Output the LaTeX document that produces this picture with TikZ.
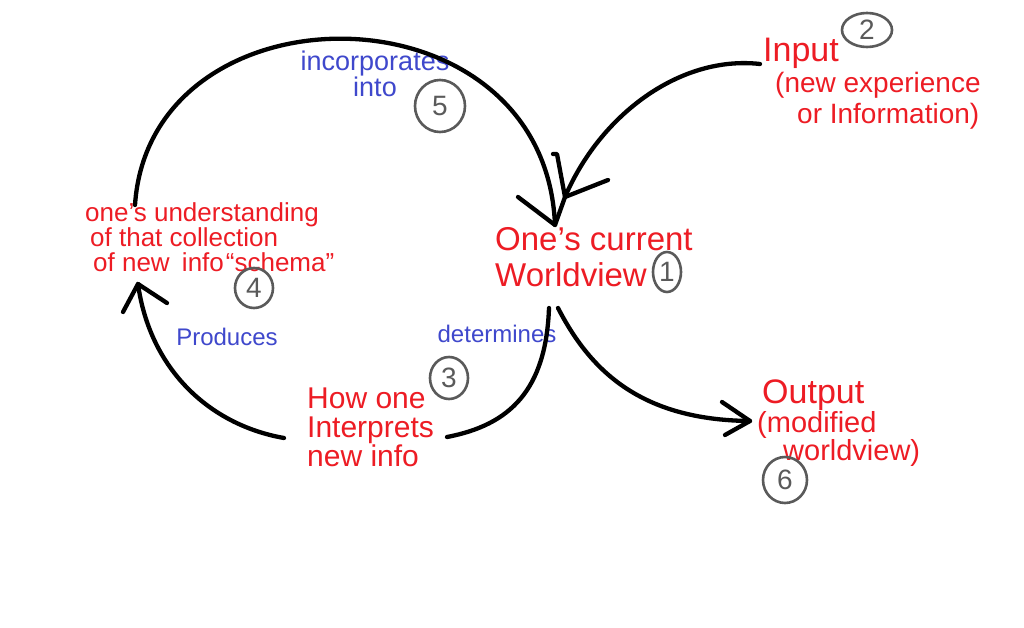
\documentclass[tikz,border=0pt]{standalone}
\usepackage{fontspec}
\setmainfont{Liberation Sans}
\usetikzlibrary{shapes.geometric}
\definecolor{inkred}{HTML}{ED1C24}
\definecolor{inkblue}{HTML}{3F48CC}
\definecolor{inkgray}{HTML}{5A5A5A}
\begin{document}
\begin{tikzpicture}[x=1pt,y=-1pt,
  redtxt/.style={text=inkred, inner sep=0pt, align=left, anchor=west},
  bluetxt/.style={text=inkblue, inner sep=0pt, align=center, font=\fontsize{24}{26}\selectfont},
  numc/.style={ellipse, draw=inkgray, line width=2.6pt, text=inkgray, inner sep=0pt, font=\fontsize{28}{28}\selectfont},
  conn/.style={line width=4.3pt, line cap=round, line join=round, draw=black},
]
\useasboundingbox[fill=white] (0,0) rectangle (1024,628);

% text nodes
\node[redtxt, font=\fontsize{33}{36}\selectfont] (wv) at (495,257) {One's current\\Worldview};
\node[redtxt, font=\fontsize{28}{31}\selectfont] (input) at (763,84) {{\fontsize{34}{31}\selectfont Input}\\\hspace*{12pt}(new experience\\\hspace*{34pt}or Information)};
\node[redtxt, font=\fontsize{26}{25}\selectfont] (schema) at (85,237) {one's understanding\\\hspace*{5pt}of that collection\\\hspace*{8pt}of new\hspace{5pt} info\hspace{2pt}“schema”};
\node[redtxt, font=\fontsize{30}{29}\selectfont] (interp) at (307,427) {How one\\Interprets\\new info};
\node[redtxt, font=\fontsize{29}{23}\selectfont] (output) at (757,423) {\hspace*{5pt}{\fontsize{34}{23}\selectfont Output}\\(modified\\\hspace*{26pt}worldview)};
\node[bluetxt, font=\fontsize{27}{25}\selectfont] (inc) at (375,74) {incorporates\\into};
\node[bluetxt] (det) at (497,334) {determines};
\node[bluetxt] (prod) at (227,337) {Produces};

% numbered circles
\node[numc, minimum width=28pt, minimum height=40pt] (n1) at (667,272) {1};
\node[numc, minimum width=50pt, minimum height=34pt] (n2) at (867,30) {2};
\node[numc, minimum width=38pt, minimum height=42pt] (n3) at (449,378) {3};
\node[numc, minimum width=38pt, minimum height=40pt] (n4) at (254,288) {4};
\node[numc, minimum width=50pt, minimum height=52pt] (n5) at (440,106) {5};
\node[numc, minimum width=44pt, minimum height=46pt] (n6) at (785,480) {6};

% A: schema -> worldview (incorporates into)
\draw[conn] ([shift={(50,-32)}]schema.west) .. controls (150,-20) and (545,-20) .. ([shift={(60,-32)}]wv.west) coordinate (tipA);
\draw[conn] ([shift={(-37,-28)}]tipA) -- (tipA) -- ([shift={(10,-28)}]tipA);

% B: input -> worldview
\draw[conn] ([shift={(-3,-20)}]input.west) .. controls (680,55) and (600,115) .. ([shift={(70,-60)}]wv.west) coordinate (tipB);
\draw[conn] ([shift={(-12,-43)}]tipB) -- ([shift={(-8,-43)}]tipB) -- (tipB) -- ([shift={(43,-17)}]tipB);

% C: worldview -> interpretation (determines)
\draw[conn] ([shift={(54,51)}]wv.west) .. controls (546,390) and (510,425) .. ([shift={(140,10)}]interp.west);

% D: interpretation -> schema (produces)
\draw[conn] ([shift={(-23,11)}]interp.west) .. controls (210,425) and (150,370) .. ([shift={(53,47)}]schema.west) coordinate (tipD);
\draw[conn] ([shift={(-15,28)}]tipD) -- (tipD) -- ([shift={(29,19)}]tipD);

% E: worldview -> output
\draw[conn] ([shift={(63,51)}]wv.west) .. controls (590,370) and (640,420) .. ([shift={(-7,-2)}]output.west) coordinate (tipE);
\draw[conn] ([shift={(-28,-19)}]tipE) -- (tipE) -- ([shift={(-25,14)}]tipE);
\end{tikzpicture}
\end{document}
